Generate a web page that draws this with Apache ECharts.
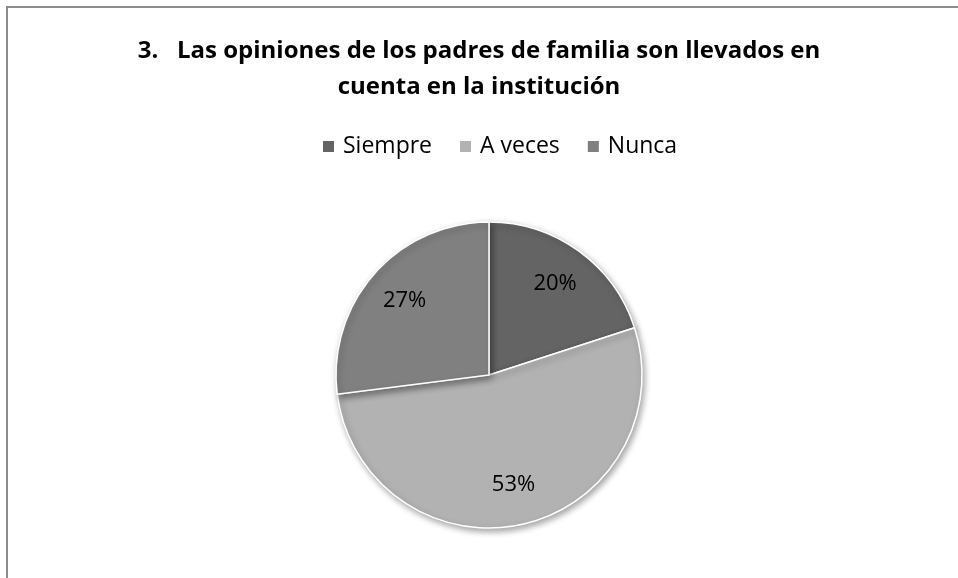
<!DOCTYPE html>
<html>
<head>
<meta charset="utf-8">
<style>
  html, body { margin: 0; padding: 0; background: #ffffff; }
  #chart { width: 958px; height: 578px; }
</style>
<script src="https://cdn.jsdelivr.net/npm/echarts@6/dist/echarts.min.js"></script>
</head>
<body>
<div id="chart"></div>
<script>
// Survey question 3: parents' opinions taken into account by the school
const titleText = '3.   Las opiniones de los padres de familia son llevados en\ncuenta en la institución';
const categories = ['Siempre', 'A veces', 'Nunca'];
const shares = [20, 53, 27];
const sliceColors = ['#646464', '#b2b2b2', '#808080'];

const FONT = '"Open Sans", Lato, sans-serif';

const pieData = categories.map((name, i) => ({
  name: name,
  value: shares[i],
  itemStyle: { color: sliceColors[i] }
}));

const chart = echarts.init(document.getElementById('chart'), null, { renderer: 'canvas' });

chart.setOption({
  backgroundColor: '#ffffff',
  animation: false,
  title: {
    text: titleText,
    left: 'center',
    top: 28,
    textStyle: {
      fontFamily: FONT,
      fontWeight: 'bold',
      fontSize: 24,
      lineHeight: 36,
      color: '#000000'
    }
  },
  legend: {
    top: 130,
    left: 316,
    itemWidth: 13,
    itemHeight: 13,
    itemGap: 26,
    icon: 'rect',
    textStyle: { fontFamily: FONT, fontSize: 23, color: '#000000', padding: [0, 0, 0, 3] },
    data: categories
  },
  graphic: [{
    type: 'polyline',
    silent: true,
    shape: { points: [[7, 600], [7, 7], [960, 7]] },
    style: { stroke: '#8c8c8c', lineWidth: 2, fill: null }
  }],
  series: [
    {
      name: 'Respuestas',
      type: 'pie',
      center: [489, 375],
      radius: [0, 153],
      startAngle: 90,
      clockwise: true,
      label: { show: false },
      labelLine: { show: false },
      itemStyle: {
        borderColor: '#ffffff',
        borderWidth: 1.5,
        shadowBlur: 6,
        shadowOffsetX: 2,
        shadowOffsetY: 3,
        shadowColor: 'rgba(0,0,0,0.35)'
      },
      emphasis: { disabled: true },
      data: pieData
    },
    {
      // transparent ring that carries the percentage labels
      name: 'Etiquetas',
      type: 'pie',
      center: [489, 375],
      radius: [66, 153],
      startAngle: 90,
      clockwise: true,
      silent: true,
      itemStyle: { color: 'rgba(0,0,0,0)', borderWidth: 0 },
      label: {
        show: true,
        position: 'inside',
        formatter: '{d}%',
        fontFamily: FONT,
        fontSize: 22,
        color: '#000000'
      },
      labelLine: { show: false },
      emphasis: { disabled: true },
      data: categories.map((name, i) => ({ name: name, value: shares[i] }))
    }
  ]
});
</script>
</body>
</html>
